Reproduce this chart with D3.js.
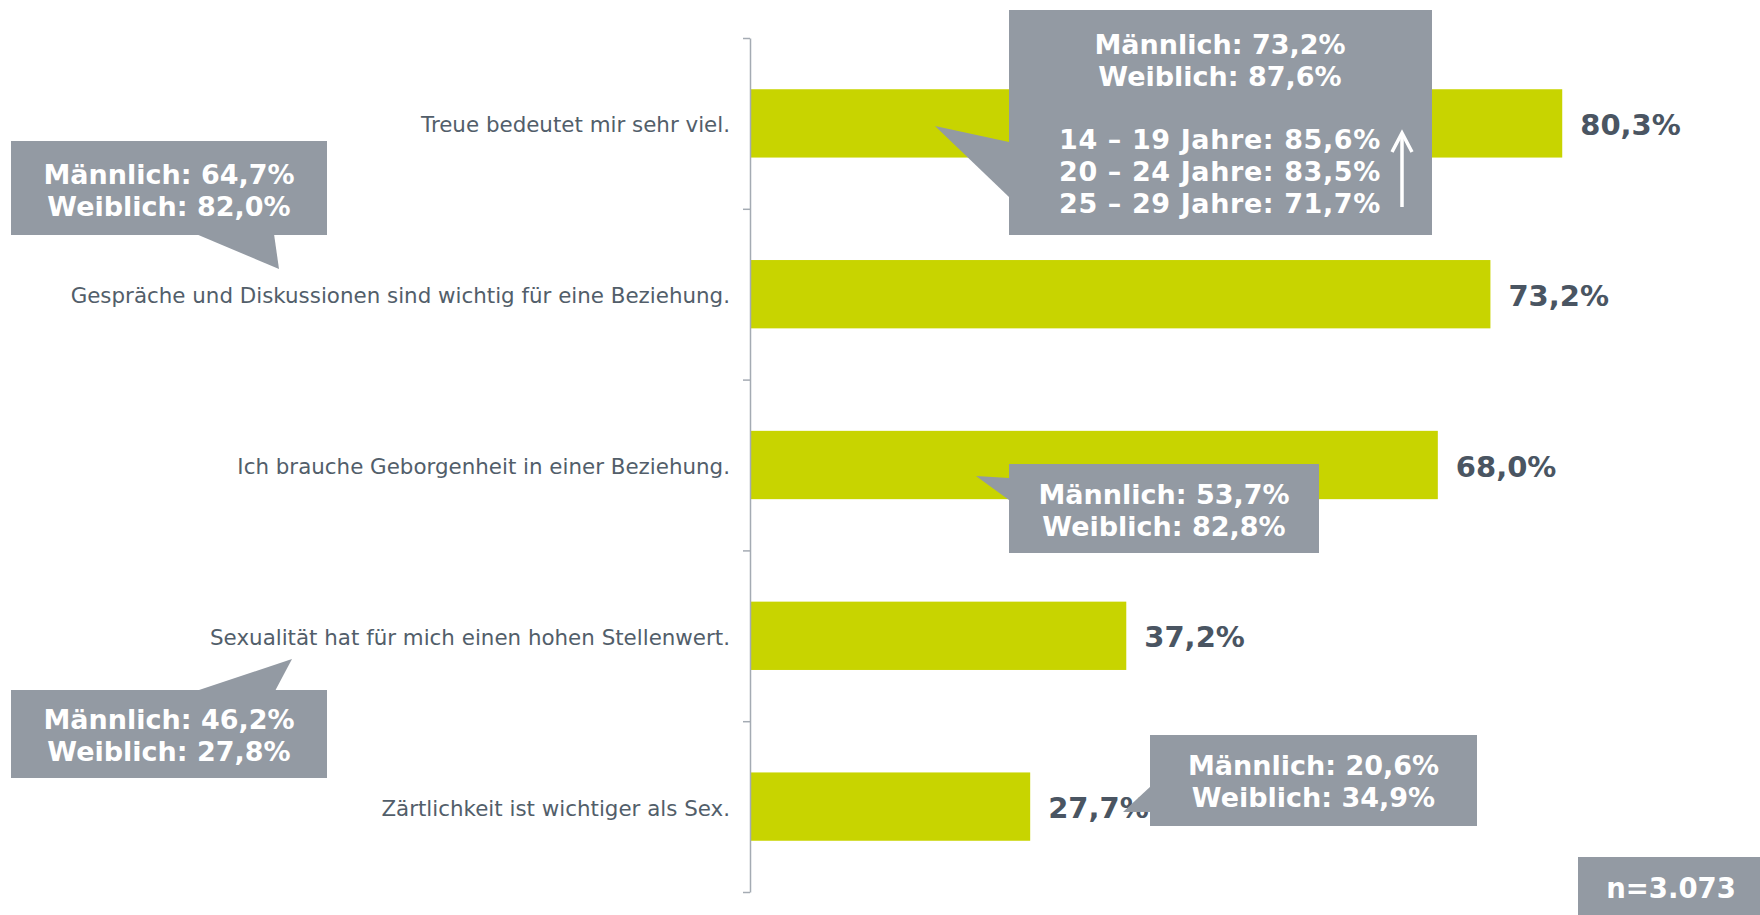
<!DOCTYPE html>
<html>
<head>
<meta charset="utf-8">
<script src="https://cdn.jsdelivr.net/npm/d3@7"></script>
<style>
  html, body { margin: 0; padding: 0; background: #fff; }
  svg { display: block; }
  text { font-family: "DejaVu Sans", Verdana, sans-serif; }
</style>
</head>
<body>
<svg id="chart" width="1760" height="915"></svg>
<script>
// ---- data ----
const categories = [
  "Treue bedeutet mir sehr viel.",
  "Gespräche und Diskussionen sind wichtig für eine Beziehung.",
  "Ich brauche Geborgenheit in einer Beziehung.",
  "Sexualität hat für mich einen hohen Stellenwert.",
  "Zärtlichkeit ist wichtiger als Sex."
];
const values = [80.3, 73.2, 68.0, 37.2, 27.7];
const valueLabels = ["80,3%", "73,2%", "68,0%", "37,2%", "27,7%"];

const calloutTexts = [
  ["Männlich: 73,2%", "Weiblich: 87,6%", "", "14 – 19 Jahre: 85,6%", "20 – 24 Jahre: 83,5%", "25 – 29 Jahre: 71,7%"],
  ["Männlich: 64,7%", "Weiblich: 82,0%"],
  ["Männlich: 53,7%", "Weiblich: 82,8%"],
  ["Männlich: 46,2%", "Weiblich: 27,8%"],
  ["Männlich: 20,6%", "Weiblich: 34,9%"]
];
const sampleLabel = "n=3.073";

// ---- layout ----
const svg = d3.select("#chart");
const x = d3.scaleLinear().domain([0, 100]).range([750, 1761.5]);
const y = d3.scaleBand().domain(categories).range([38, 892]).paddingInner(0.6).paddingOuter(0.3);
const yIdx = d3.scaleLinear().domain([0, categories.length]).range([38, 892]);

const BAR = "#c8d400", BOX = "#939aa3", LABEL = "#525e6a", VAL = "#4a5562";

// bars
svg.append("g").selectAll("rect").data(categories).join("rect")
  .attr("x", x(0))
  .attr("y", d => y(d))
  .attr("width", (d, i) => x(values[i]) - x(0))
  .attr("height", y.bandwidth())
  .attr("fill", BAR);

// value labels
svg.append("g").selectAll("text").data(categories).join("text")
  .attr("x", (d, i) => x(values[i]) + 18)
  .attr("y", d => y(d) + y.bandwidth() / 2)
  .attr("dy", "0.4em")
  .attr("font-size", 29)
  .attr("font-weight", "bold")
  .attr("fill", VAL)
  .text((d, i) => valueLabels[i]);

// axis with ticks at band boundaries
const axisG = svg.append("g").attr("transform", `translate(${x(0)},0)`)
  .call(d3.axisLeft(yIdx).tickValues(d3.range(0, categories.length + 1)).tickFormat("").tickSize(7).tickSizeOuter(0));
axisG.selectAll("path, line").attr("stroke", "#a4abb3").attr("stroke-width", 1.5);

// category labels
const labG = svg.append("g").attr("transform", `translate(${x(0)},0)`)
  .call(d3.axisLeft(y).tickSize(0).tickPadding(20));
labG.select(".domain").remove();
labG.selectAll("text")
  .attr("font-family", "DejaVu Sans, Verdana, sans-serif")
  .attr("font-size", 21.4)
  .attr("dy", "0.42em")
  .attr("fill", LABEL);

// ---- callouts ----
const callouts = [
  { box: [1009, 10, 1432, 235], tail: [[1009, 142], [935, 126], [1009, 197]], cx: 1220, lines: calloutTexts[0], y0: 44, arrow: true },
  { box: [11, 141, 327, 235], tail: [[196, 234], [279, 269], [274, 234]], cx: 169, lines: calloutTexts[1], y0: 174 },
  { box: [1009, 464, 1319, 553], tail: [[1009, 478], [976, 476], [1009, 500]], cx: 1164, lines: calloutTexts[2], y0: 494 },
  { box: [11, 690, 327, 778], tail: [[196, 691], [292, 659], [275, 691]], cx: 169, lines: calloutTexts[3], y0: 719.5 },
  { box: [1150, 735, 1477, 826], tail: [[1151, 786], [1123, 812], [1151, 812]], cx: 1313.5, lines: calloutTexts[4], y0: 765.5 }
];
const LH = 31.8;
const cg = svg.append("g");
callouts.forEach(c => {
  const [x0, y0, x1, y1] = c.box;
  cg.append("rect").attr("x", x0).attr("y", y0).attr("width", x1 - x0).attr("height", y1 - y0).attr("fill", BOX);
  cg.append("path").attr("d", d3.line()(c.tail) + "Z").attr("fill", BOX);
  c.lines.forEach((t, i) => {
    if (!t) return;
    cg.append("text")
      .attr("x", c.cx).attr("y", c.y0 + i * LH)
      .attr("dy", "0.36em")
      .attr("text-anchor", "middle")
      .attr("font-size", 27).attr("font-weight", "bold")
      .attr("letter-spacing", t.includes("Jahre") ? 0.6 : 0)
      .attr("fill", "#fff")
      .text(t);
  });
  if (c.arrow) {
    cg.append("line").attr("x1", 1402).attr("x2", 1402).attr("y1", 134).attr("y2", 207)
      .attr("stroke", "#fff").attr("stroke-width", 3.5);
    cg.append("path").attr("d", "M1392,152 L1402,133 L1412,152")
      .attr("fill", "none").attr("stroke", "#fff").attr("stroke-width", 3.5);
  }
});

// sample size box
svg.append("rect").attr("x", 1578).attr("y", 857).attr("width", 182).attr("height", 58).attr("fill", BOX);
svg.append("text").attr("x", 1671).attr("y", 888).attr("dy", "0.36em")
  .attr("text-anchor", "middle").attr("font-size", 27.5).attr("font-weight", "bold")
  .attr("fill", "#fff").text(sampleLabel);
</script>
</body>
</html>
